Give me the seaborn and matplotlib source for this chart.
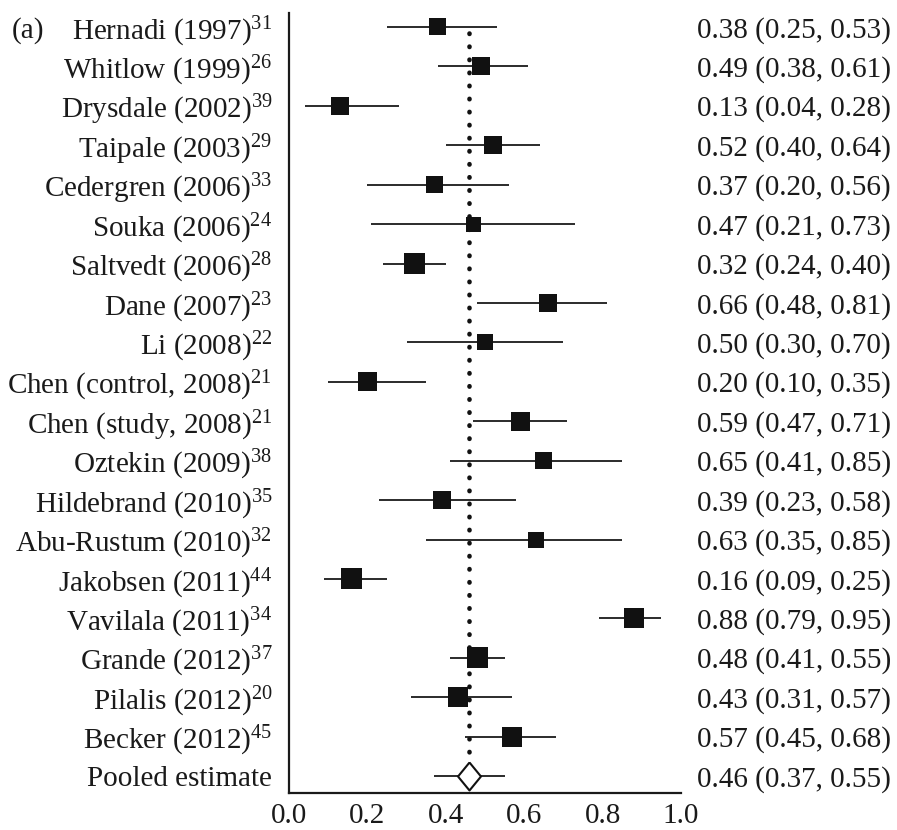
import matplotlib
matplotlib.use("Agg")
import matplotlib.pyplot as plt
import seaborn as sns
import pandas as pd
import numpy as np
from matplotlib.transforms import blended_transform_factory

studies = ["Hernadi (1997)", "Whitlow (1999)", "Drysdale (2002)", "Taipale (2003)",
           "Cedergren (2006)", "Souka (2006)", "Saltvedt (2006)", "Dane (2007)",
           "Li (2008)", "Chen (control, 2008)", "Chen (study, 2008)", "Oztekin (2009)",
           "Hildebrand (2010)", "Abu-Rustum (2010)", "Jakobsen (2011)", "Vavilala (2011)",
           "Grande (2012)", "Pilalis (2012)", "Becker (2012)"]
refs = ["31", "26", "39", "29", "33", "24", "28", "23", "22", "21", "21", "38",
        "35", "32", "44", "34", "37", "20", "45"]
est = [0.38, 0.49, 0.13, 0.52, 0.37, 0.47, 0.32, 0.66, 0.50, 0.20, 0.59, 0.65,
       0.39, 0.63, 0.16, 0.88, 0.48, 0.43, 0.57]
lo = [0.25, 0.38, 0.04, 0.40, 0.20, 0.21, 0.24, 0.48, 0.30, 0.10, 0.47, 0.41,
      0.23, 0.35, 0.09, 0.79, 0.41, 0.31, 0.45]
hi = [0.53, 0.61, 0.28, 0.64, 0.56, 0.73, 0.40, 0.81, 0.70, 0.35, 0.71, 0.85,
      0.58, 0.85, 0.25, 0.95, 0.55, 0.57, 0.68]
# relative study weight (shown as square size)
weights = [17, 18, 18, 18, 17, 15, 21, 18, 16, 19, 19, 17, 18, 16, 21, 20, 21, 20, 20]
pooled_label = "Pooled estimate"
pooled = 0.46
pooled_lo = 0.37
pooled_hi = 0.55
xticks = [0.0, 0.2, 0.4, 0.6, 0.8, 1.0]

sns.set_style("white")
plt.rcParams["font.family"] = ["Liberation Serif", "DejaVu Serif"]
plt.rcParams["mathtext.fontset"] = "custom"
plt.rcParams["mathtext.rm"] = "Liberation Serif"
plt.rcParams["mathtext.it"] = "Liberation Serif:italic"
plt.rcParams["mathtext.bf"] = "Liberation Serif:bold"

n = len(studies)
df = pd.DataFrame({"study": studies, "est": est, "lo": lo, "hi": hi,
                   "row": np.arange(n), "w": weights})

fig = plt.figure(figsize=(8.97, 8.30), dpi=100)
ax = fig.add_axes([289 / 897, 1 - 793 / 830, (681 - 289) / 897, (793 - 13) / 830])

px = 0.72  # points per pixel at 100 dpi
ink = "#1a1a1a"
# CI lines
ax.hlines(df["row"], df["lo"], df["hi"], color=ink, linewidth=1.3, zorder=2)
ax.hlines([n], [pooled_lo], [pooled_hi], color=ink, linewidth=1.3, zorder=2)
# dotted pooled line
ax.plot([pooled, pooled], [0.15, n - 0.3], linestyle=(0, (0.1, 2.75)),
        dash_capstyle="round", linewidth=3.3, color="#111111", zorder=1)
# study squares
sns.scatterplot(data=df, x="est", y="row", marker="s", color="#111111",
                s=(df["w"] * px) ** 2, edgecolor="none", linewidth=0, ax=ax,
                zorder=3, legend=False)
# pooled diamond
diamond = [(0, 1), (0.82, 0), (0, -1), (-0.82, 0), (0, 1)]
ax.scatter([pooled], [n], marker=diamond, s=(28 * px) ** 2, facecolor="white",
           edgecolor="#111111", linewidth=1.5, zorder=4)

ax.set_xlim(0, 1)
ax.set_ylim(n + 0.43, -0.355)
ax.set_xlabel("")
ax.set_ylabel("")

fs = 21
labels = [f"{s}$^{{{r}}}$" for s, r in zip(studies, refs)] + [pooled_label]
ax.set_yticks(range(n + 1))
ax.set_yticklabels(labels, fontsize=fs, color=ink)
ax.tick_params(axis="y", length=0, pad=12)
ax.set_xticks(xticks)
ax.set_xticklabels([f"{t:.1f}" for t in xticks], fontsize=fs, color=ink)
ax.tick_params(axis="x", direction="in", length=14, width=1.5, pad=7, color=ink)

for side in ["top", "right"]:
    ax.spines[side].set_visible(False)
for side in ["left", "bottom"]:
    ax.spines[side].set_linewidth(1.6)
    ax.spines[side].set_color(ink)

trans = blended_transform_factory(fig.transFigure, ax.transData)
right_text = [f"{e:.2f} ({l:.2f}, {h:.2f})" for e, l, h in zip(est, lo, hi)]
right_text.append(f"{pooled:.2f} ({pooled_lo:.2f}, {pooled_hi:.2f})")
for i, t in enumerate(right_text):
    ax.text(697 / 897, i, t, transform=trans, ha="left", va="center_baseline",
            fontsize=fs, color=ink, clip_on=False)

ax.text(12 / 897, 0, "(a)", transform=trans, ha="left", va="center_baseline",
        fontsize=fs, color=ink, clip_on=False)

fig.savefig("out.png", dpi=100)
